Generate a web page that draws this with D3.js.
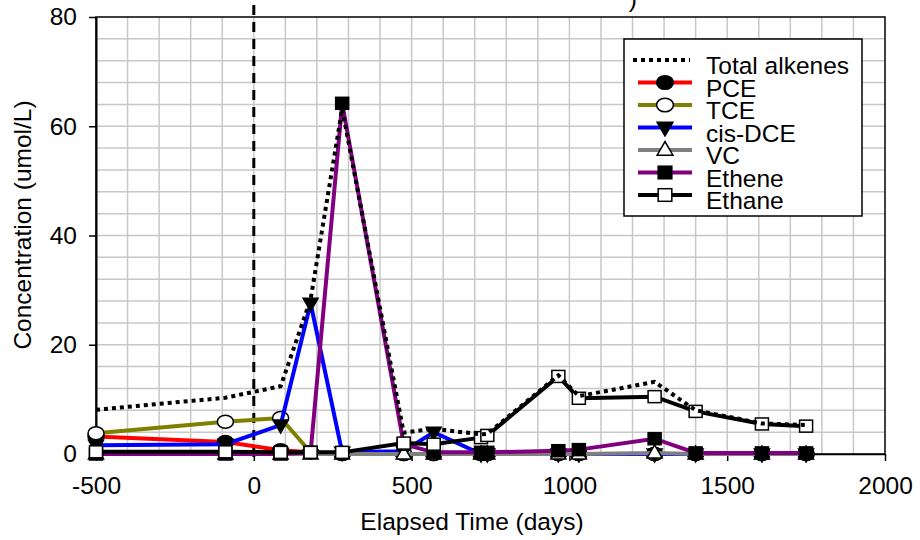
<!DOCTYPE html>
<html>
  <head>
    <meta charset="utf-8">
    <script src="https://cdn.jsdelivr.net/npm/d3@7"></script>
    <style>
        body { margin: 0; background: white; }
        text { font-family: "Liberation Sans", Arial, sans-serif; fill: black; }
    </style>
  </head>

  <body>
    <div id="my_dataviz"></div>
  </body>

  <script>

    // sampling days and concentrations (umol/L)
    let days   = [-500, -90, 85, 180, 280, 475, 570, 720, 740, 965, 1030, 1270, 1400, 1610, 1750];
    let total  = [8.1, 10.3, 12.4, 28.3, 63.2, 3.9, 4.6, 3.6, 3.7, 14.4, 10.6, 13.2, 8.0, 5.6, 5.3];
    let pce    = [3.2, 2.2, 0.7, 0.3, 0, 0, 0, 0, 0, 0, 0, 0, 0, 0, 0];
    let tce    = [3.8, 5.9, 6.6, 0.3, 0, 0, 0, 0, 0, 0, 0, 0, 0, 0, 0];
    let cisdce = [1.6, 1.8, 5.3, 27.6, 0.3, 0.5, 4.0, 0, 0, 0, 0, 0, 0, 0, 0];
    let vc     = [0, 0, 0, 0, 0, 0, 0, 0, 0, 0, 0, 0.2, 0, 0, 0];
    let ethene = [0, 0, 0, 0.3, 64.2, 1.8, 0.3, 0.3, 0.3, 0.6, 0.8, 2.8, 0.2, 0.2, 0.2];
    let ethane = [0.4, 0.4, 0.3, 0.3, 0.3, 2.0, 1.8, 3.0, 3.4, 14.2, 10.2, 10.5, 7.8, 5.5, 5.1];

    let xTicks = [-500, 0, 500, 1000, 1500, 2000];
    let yTicks = [0, 20, 40, 60, 80];
    let xLabel = "Elapsed Time (days)";
    let yLabel = "Concentration (umol/L)";

    let series = [
      {name: "PCE",     values: pce,    color: "#ff0000", marker: "circle",  fill: "black"},
      {name: "TCE",     values: tce,    color: "#808000", marker: "circle",  fill: "white"},
      {name: "cis-DCE", values: cisdce, color: "#0000ff", marker: "tridown", fill: "black"},
      {name: "VC",      values: vc,     color: "#808080", marker: "triup",   fill: "white"},
      {name: "Ethene",  values: ethene, color: "#800080", marker: "square",  fill: "black"},
      {name: "Ethane",  values: ethane, color: "#000000", marker: "square",  fill: "white"}
    ];

    let fontSize = "24.5px";

    let margin = {top: 17, right: 35, bottom: 86, left: 96},
        width = 920 - margin.left - margin.right,
        height = 540 - margin.top - margin.bottom;

    let root = d3.select("#my_dataviz")
                 .append("svg")
                   .attr("width", 920)
                   .attr("height", 540);

    // title clipped at the top edge, only its last glyph shows
    root.append("text")
        .attr("x", 637)
        .attr("y", 7)
        .attr("text-anchor", "end")
        .style("font-size", fontSize)
        .text(")");

    let svg = root.append("g")
                  .attr("transform", "translate(" + margin.left + "," + margin.top + ")");

    let x = d3.scaleLinear().domain([-500, 2000]).range([0, width]);
    let y = d3.scaleLinear().domain([0, 80]).range([height, 0]);

    // grid
    svg.append("g")
       .selectAll("line")
       .data(d3.range(-400, 2000, 100))
       .enter()
       .append("line")
         .attr("x1", d => x(d)).attr("x2", d => x(d))
         .attr("y1", 0).attr("y2", height)
         .attr("stroke", "#c8c8c8")
         .attr("stroke-width", 1.5);

    svg.append("g")
       .selectAll("line")
       .data(d3.range(4, 80, 4))
       .enter()
       .append("line")
         .attr("x1", 0).attr("x2", width)
         .attr("y1", d => y(d)).attr("y2", d => y(d))
         .attr("stroke", "#c8c8c8")
         .attr("stroke-width", 1.5);

    // frame
    svg.append("rect")
       .attr("width", width)
       .attr("height", height)
       .attr("fill", "none")
       .attr("stroke", "black")
       .attr("stroke-width", 1.5);

    let xAxis = svg.append("g")
       .attr("transform", "translate(0," + height + ")")
       .call(d3.axisBottom(x).tickValues(xTicks).tickFormat(d => String(d))
               .tickSize(7).tickPadding(16).tickSizeOuter(0));
    xAxis.select(".domain").attr("stroke-width", 1.5);
    xAxis.selectAll(".tick line").attr("stroke-width", 1.5);
    xAxis.selectAll("text").style("font-size", fontSize).attr("fill", "black");

    let yAxis = svg.append("g")
       .call(d3.axisLeft(y).tickValues(yTicks).tickFormat(d => String(d))
               .tickSize(7).tickPadding(12).tickSizeOuter(0));
    yAxis.select(".domain").attr("stroke-width", 2);
    yAxis.selectAll(".tick line").attr("stroke-width", 1.5);
    yAxis.selectAll("text").style("font-size", fontSize).attr("fill", "black");

    svg.append("text")
       .attr("x", 376)
       .attr("y", 513)
       .attr("text-anchor", "middle")
       .style("font-size", fontSize)
       .text(xLabel);

    svg.append("text")
       .attr("transform", "translate(-65," + 208 + ") rotate(-90)")
       .attr("text-anchor", "middle")
       .style("font-size", fontSize)
       .text(yLabel);

    // treatment start
    svg.append("line")
       .attr("x1", x(0)).attr("x2", x(0))
       .attr("y1", -12).attr("y2", height + 6)
       .attr("stroke", "black")
       .attr("stroke-width", 3)
       .attr("stroke-dasharray", "10,7");

    function drawMarker(g, type, fill, cx, cy, s) {
      if (type == "circle") {
        g.append("ellipse")
         .attr("cx", cx).attr("cy", cy)
         .attr("rx", 8 * s).attr("ry", 6.5 * s)
         .attr("fill", fill).attr("stroke", "black").attr("stroke-width", 1.5);
      } else if (type == "square") {
        g.append("rect")
         .attr("x", cx - 6.5 * s).attr("y", cy - 6 * s)
         .attr("width", 13 * s).attr("height", 12 * s)
         .attr("fill", fill).attr("stroke", "black").attr("stroke-width", 1.5);
      } else {
        let d = type == "tridown" ? 1 : -1;
        let pts = [[cx - 7.5 * s, cy - d * 5 * s], [cx + 7.5 * s, cy - d * 5 * s], [cx, cy + d * 8 * s]];
        g.append("polygon")
         .attr("points", pts.map(p => p.join(",")).join(" "))
         .attr("fill", fill).attr("stroke", "black").attr("stroke-width", 1.5);
      }
    }

    let line = d3.line()
                 .x(d => x(d[0]))
                 .y(d => y(d[1]));

    series.forEach(function(s) {
      let pts = days.map((d, i) => [d, s.values[i]]);
      let g = svg.append("g");
      g.append("path")
       .datum(pts)
       .attr("fill", "none")
       .attr("stroke", s.color)
       .attr("stroke-width", 4)
       .attr("d", line);
      pts.forEach(p => drawMarker(g, s.marker, s.fill, x(p[0]), y(p[1]), 1));
    });

    svg.append("path")
       .datum(days.map((d, i) => [d, total[i]]))
       .attr("fill", "none")
       .attr("stroke", "black")
       .attr("stroke-width", 4)
       .attr("stroke-dasharray", "4,4")
       .attr("d", line);

    // legend
    let legend = root.append("g").attr("transform", "translate(624,39)");
    legend.append("rect")
          .attr("width", 238).attr("height", 177)
          .attr("fill", "white").attr("stroke", "black").attr("stroke-width", 1.5);

    let rowY = i => 21 + i * 22.5;

    legend.append("line")
          .attr("x1", 9).attr("x2", 66)
          .attr("y1", rowY(0)).attr("y2", rowY(0))
          .attr("stroke", "black").attr("stroke-width", 4)
          .attr("stroke-dasharray", "4,4");
    legend.append("text")
          .attr("x", 82).attr("y", rowY(0) + 14)
          .style("font-size", fontSize)
          .text("Total alkenes");

    series.forEach(function(s, i) {
      let ly = rowY(i + 1);
      legend.append("line")
            .attr("x1", 14).attr("x2", 68)
            .attr("y1", ly).attr("y2", ly)
            .attr("stroke", s.color).attr("stroke-width", 4);
      drawMarker(legend, s.marker, s.fill, 41, ly, 1.05);
      legend.append("text")
            .attr("x", 82).attr("y", ly + 14)
            .style("font-size", fontSize)
            .text(s.name);
    });

  </script>

</html>
